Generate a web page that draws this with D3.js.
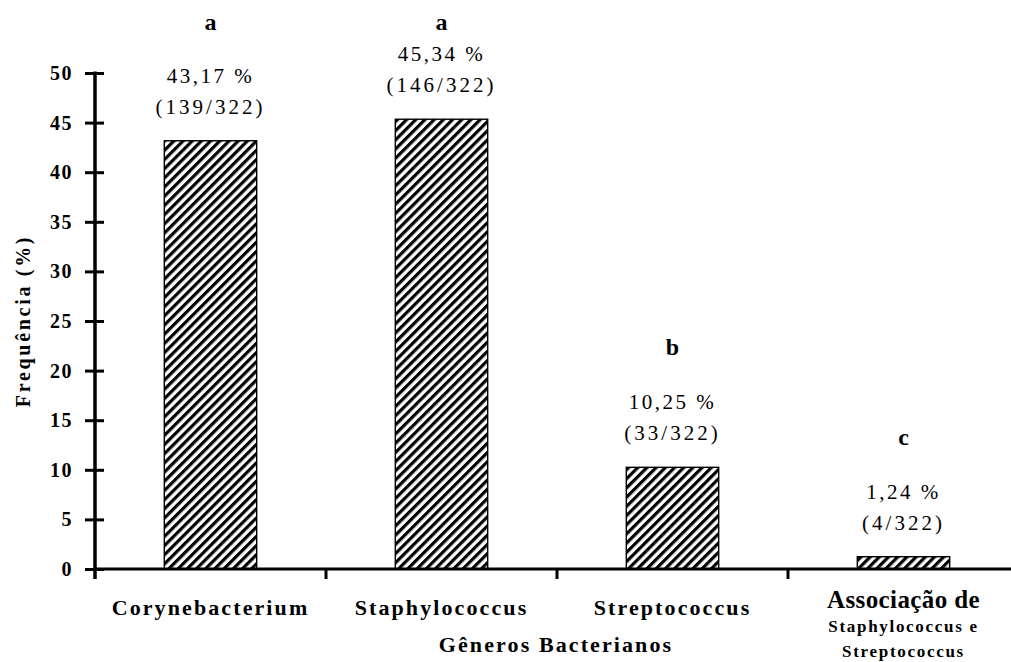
<!DOCTYPE html>
<html><head><meta charset="utf-8">
<script src="https://cdn.jsdelivr.net/npm/d3@7"></script>
<style>body{margin:0;background:#fff}svg{display:block}text{font-family:"Liberation Serif","Times New Roman",serif;fill:#000}</style>
</head><body>
<svg id="c" width="1011" height="662"></svg>
<script>
const categories = ["Corynebacterium","Staphylococcus","Streptococcus","Associação de"];
const subLabels = [[],[],[],["Staphylococcus e","Streptococcus"]];
const values = [43.17,45.34,10.25,1.24];
const pctLabels = ["43,17 %","45,34 %","10,25 %","1,24 %"];
const countLabels = ["(139/322)","(146/322)","(33/322)","(4/322)"];
const letters = ["a","a","b","c"];
const yTicks = [0,5,10,15,20,25,30,35,40,45,50];

const svg = d3.select("#c");
const x0 = 95, x1 = 1019, yTop = 73, yBot = 569;
const x = d3.scaleBand().domain(categories).range([x0,x1]).paddingInner(0.6).paddingOuter(0.3);
const y = d3.scaleLinear().domain([0,50]).range([yBot,yTop]);

const defs = svg.append("defs");
const pat = defs.append("pattern").attr("id","hatch").attr("patternUnits","userSpaceOnUse")
  .attr("width",6.5).attr("height",6.5).attr("patternTransform","rotate(45)");
pat.append("rect").attr("width",6.5).attr("height",6.5).attr("fill","#fff");
pat.append("rect").attr("x",0).attr("y",0).attr("width",3.2).attr("height",6.5).attr("fill","#000");

svg.selectAll("rect.bar").data(values).join("rect").attr("class","bar")
  .attr("x",(d,i)=>x(categories[i])).attr("width",x.bandwidth())
  .attr("y",d=>y(d)).attr("height",d=>y(0)-y(d))
  .attr("fill","url(#hatch)").attr("stroke","#000").attr("stroke-width",1.4);

// y axis
const yAxis = d3.axisLeft(y).tickValues(yTicks).tickSize(0).tickPadding(22);
const gy = svg.append("g").attr("transform",`translate(${x0},0)`).call(yAxis);
gy.select(".domain").remove();
gy.selectAll(".tick text").attr("font-size",20).attr("font-weight","bold")
  .attr("font-family","Liberation Serif").attr("letter-spacing",1.5);
gy.selectAll(".tick").append("line").attr("x1",-10).attr("x2",9).attr("stroke","#000").attr("stroke-width",3);
svg.append("line").attr("x1",x0).attr("x2",x0).attr("y1",yTop-1.5).attr("y2",yBot+10).attr("stroke","#000").attr("stroke-width",3.5);

// x axis
const xAxis = d3.axisBottom(x).tickSize(0).tickFormat("");
const gx = svg.append("g").attr("transform",`translate(0,${yBot})`).call(xAxis);
gx.select(".domain").remove();
gx.selectAll(".tick").remove();
svg.append("line").attr("x1",x0).attr("x2",x1).attr("y1",yBot).attr("y2",yBot).attr("stroke","#000").attr("stroke-width",3);
const step = x.step();
svg.selectAll("line.xt").data(categories.slice(1)).join("line").attr("class","xt")
  .attr("x1",d=>x(d)-x.paddingInner()*step/2).attr("x2",d=>x(d)-x.paddingInner()*step/2)
  .attr("y1",yBot).attr("y2",yBot+10).attr("stroke","#000").attr("stroke-width",3);

const cx = d => x(d)+x.bandwidth()/2;

// category labels
svg.selectAll("text.cat").data(categories).join("text").attr("class","cat")
  .attr("x",cx).attr("y",(d,i)=> i===3 ? 608 : 615).attr("text-anchor","middle")
  .attr("font-weight","bold").attr("font-size",(d,i)=> i===3 ? 25 : 22)
  .attr("letter-spacing",(d,i)=> i===3 ? 0.4 : 2.1)
  .text(d=>d);
categories.forEach((c,i)=>{
  subLabels[i].forEach((s,j)=>{
    svg.append("text").attr("x",cx(c)).attr("y",632+j*25).attr("text-anchor","middle")
      .attr("font-weight","bold").attr("font-size",17).attr("letter-spacing",1.7).text(s);
  });
});

// value labels
svg.selectAll("text.pct").data(values).join("text").attr("class","pct")
  .attr("x",(d,i)=>cx(categories[i])).attr("y",d=>y(d)-58).attr("text-anchor","middle")
  .attr("font-size",21).attr("letter-spacing",2.5).text((d,i)=>pctLabels[i]);
svg.selectAll("text.cnt").data(values).join("text").attr("class","cnt")
  .attr("x",(d,i)=>cx(categories[i])).attr("y",d=>y(d)-27).attr("text-anchor","middle")
  .attr("font-size",21).attr("letter-spacing",3).text((d,i)=>countLabels[i]);
svg.selectAll("text.let").data(values).join("text").attr("class","let")
  .attr("x",(d,i)=>cx(categories[i])).attr("y",d=>Math.max(y(d)-112,30)).attr("text-anchor","middle")
  .attr("font-size",24).attr("font-weight","bold").text((d,i)=>letters[i]);

// axis titles
svg.append("text").attr("transform",`translate(30,${(yTop+yBot)/2}) rotate(-90)`).attr("text-anchor","middle")
  .attr("font-weight","bold").attr("font-size",20).attr("letter-spacing",2.7).text("Frequência (%)");
svg.append("text").attr("x",556).attr("y",652).attr("text-anchor","middle")
  .attr("font-weight","bold").attr("font-size",22).attr("letter-spacing",2.1).text("Gêneros Bacterianos");
</script>
</body></html>
